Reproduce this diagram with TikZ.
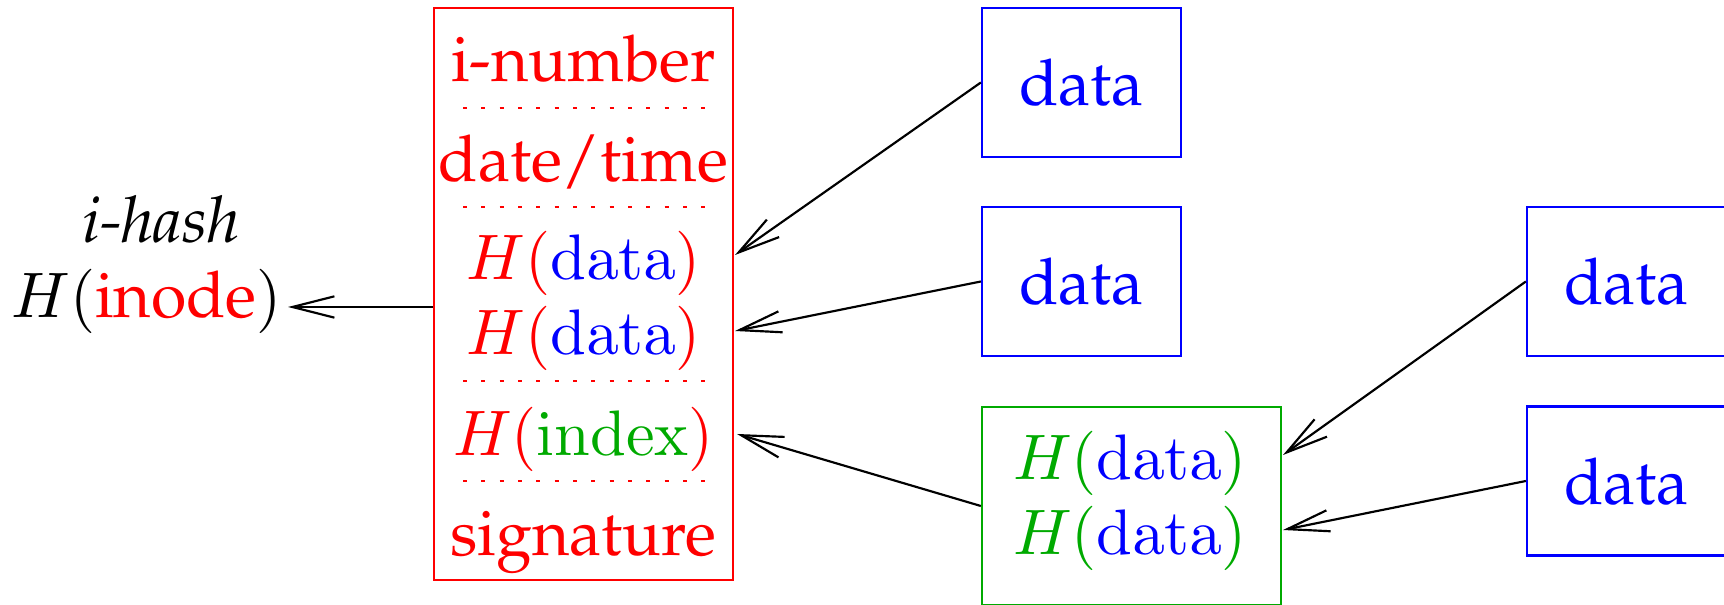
\RequirePackage{fix-cm}
\documentclass[tikz,border=0pt]{standalone}
\usepackage[T1]{fontenc}
\usepackage{palatino}
\DeclareFontShape{OT1}{cmr}{m}{n}{<->cmr10}{}
\DeclareFontShape{OML}{cmm}{m}{it}{<->cmmi10}{}
\usetikzlibrary{arrows.meta}
\definecolor{mygreen}{RGB}{0,170,0}
\begin{document}
\begin{tikzpicture}[x=0.3pt,y=-0.3pt,
  every node/.style={font=\fontsize{19.3}{23}\selectfont},
  datab/.style={draw=blue,line width=0.7pt,inner sep=0pt,minimum width=59.7pt,minimum height=44.7pt,text=blue},
  inodeb/.style={draw=red,line width=0.7pt,inner sep=0pt,minimum width=89.7pt,minimum height=171.6pt},
  indexb/.style={draw=mygreen,line width=0.7pt,inner sep=0pt,minimum width=89.7pt,minimum height=59.4pt},
  row/.style={anchor=base,inner sep=0pt},
  sep/.style={red,line width=0.6pt,dash pattern=on 1.2pt off 4.3pt},
  arr/.style={line width=0.65pt,-{Straight Barb[length=12.6pt,width=6.4pt,line width=0.65pt]}}
]
\useasboundingbox (0,0) rectangle (1724,605);
% inode box
\node[inodeb] (inode) at (583.5,294) {};
\node[row,text=red] (r1) at (583.5,82) {i-number};
\node[row,text=red] (r2) at (583.5,182) {date/time};
\node[row,text=red] (r3) at (583.5,280) {$H(\textcolor{blue}{\mathrm{data}})$};
\node[row,text=red] (r4) at (583.5,355) {$H(\textcolor{blue}{\mathrm{data}})$};
\node[row,text=red] (r5) at (583.5,456) {$H(\textcolor{mygreen}{\mathrm{index}})$};
\node[row,text=red] (r6) at (583.5,556) {signature};
\draw[sep] (463,108) -- (708,108);
\draw[sep] (463,207) -- (708,207);
\draw[sep] (463,381) -- (708,381);
\draw[sep] (463,481) -- (708,481);
% left label
\node[row] (ihash) at (161,243) {\textit{i-hash}};
\node[row] (hinode) at (146.5,318) {$H(\textcolor{red}{\mbox{inode}})$};
% data boxes
\node[datab] (d1) at (1081.5,82.5) {data};
\node[datab] (d2) at (1081.5,281.5) {data};
\node[datab] (d3) at (1626.5,281.5) {data};
\node[datab] (d4) at (1626.5,481) {data};
% index box
\node[indexb] (idx) at (1131.5,506) {};
\node[row,text=mygreen] (g1) at (1130,480) {$H(\textcolor{blue}{\mathrm{data}})$};
\node[row,text=mygreen] (g2) at (1130,555) {$H(\textcolor{blue}{\mathrm{data}})$};
% arrow ends
\coordinate (a0) at (288,307);
\coordinate (t1) at (735,255);
\coordinate (t2) at (735,331);
\coordinate (t3) at (737,434);
\coordinate (t4) at (1283,455);
\coordinate (t5) at (1283,530);
\draw[arr] (inode.west |- a0) -- (a0);
\draw[arr] (d1.west) -- (t1);
\draw[arr] (d2.west) -- (t2);
\draw[arr] (idx.west) -- (t3);
\draw[arr] (d3.west) -- (t4);
\draw[arr] (d4.west) -- (t5);
\end{tikzpicture}
\end{document}
